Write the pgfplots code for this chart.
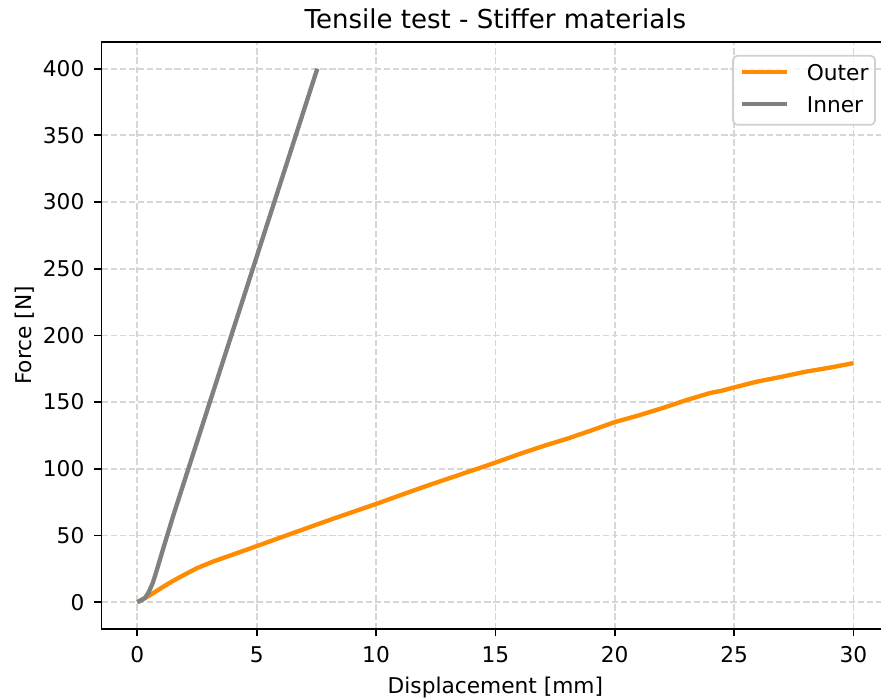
\documentclass[border=0pt]{standalone}
\usepackage{fontspec}
\setmainfont{DejaVu Sans}
\usepackage{pgfplots}
\pgfplotsset{compat=1.18}

\definecolor{outerc}{HTML}{FF8C00}
\definecolor{innerc}{HTML}{808080}
\definecolor{gridc}{HTML}{D6D6D6}
\definecolor{legc}{HTML}{D0D0D0}

% Force-displacement curves of the tensile tests
\pgfplotstableread{
x      y
0.0    0.0
0.5    4.8
1.0    10.6
1.5    16.0
2.0    20.8
2.5    25.5
3.2    30.6
3.9    35.0
5.0    42.0
6.4    51.0
8.07   61.7
10.0   73.6
11.4   82.6
12.0   86.4
13.0   92.5
14.0   98.5
15.0   104.6
16.0   111.0
16.5   114.0
17.0   117.0
18.0   122.5
19.0   128.6
20.0   135.0
21.0   140.0
22.0   145.5
23.0   151.5
24.0   156.8
24.5   158.6
25.0   161.0
26.0   165.5
27.0   169.0
28.0   172.8
29.0   175.8
30.0   179.2
}\outerdata

\pgfplotstableread{
x      y
0.0    0.0
0.15   1.2
0.32   3.2
0.45   6.5
0.53   9.5
0.64   14.0
0.74   19.5
0.90   29.0
1.10   41.0
1.50   64.5
7.54   400.0
}\innerdata

\begin{document}
\begin{tikzpicture}
\useasboundingbox (-46.77pt,-32.39pt) rectangle (359.2pt,289.75pt);
\begin{axis}[
  at={(0pt,0pt)}, anchor=south west,
  scale only axis,
  width=363pt, height=270.4pt,
  xmin=-1.5, xmax=31.5,
  ymin=-20, ymax=420,
  xtick={0,5,...,30},
  ytick={0,50,...,400},
  xtick pos=bottom, ytick pos=left,
  tick align=outside,
  major tick length=3.5pt,
  tick style={line width=0.8pt, black},
  axis line style={line width=0.8pt},
  grid=major,
  grid style={line width=0.8pt, gridc, dash pattern=on 2.9pt off 1.3pt},
  /pgf/number format/assume math mode=true,
  tick label style={font=\fontsize{10}{12}\selectfont},
  xticklabel style={inner sep=0pt, anchor=base, yshift=-12pt},
  yticklabel style={inner sep=0pt, anchor=east, xshift=-4.2pt},
  label style={font=\fontsize{10}{12}\selectfont},
  xlabel={Displacement [mm]},
  ylabel={Force [N]},
  xlabel style={at={(axis description cs:0.5,-0.1102)}, anchor=base},
  ylabel style={at={(axis description cs:-0.0887,0.5)}, anchor=base},
  title={Tensile test - Stiffer materials},
  title style={font=\fontsize{12}{14}\selectfont, at={(axis description cs:0.5,1)}, anchor=base, yshift=0pt},
  legend style={
    at={(rel axis cs:0.983,0.978)}, anchor=north east,
    draw=legc, line width=0.8pt, rounded corners=2pt,
    fill=white, fill opacity=0.8, text opacity=1,
    inner xsep=3pt, inner ysep=3.8pt,
    row sep=5.2pt,
    font=\fontsize{10}{12}\selectfont,
    nodes={inner sep=0pt, text height=7.5pt, text depth=2pt},
    /tikz/every odd column/.append style={column sep=8pt},
  },
  legend cell align=left,
  legend image code/.code={
    \draw[#1] (0pt,1pt) -- (21pt,1pt);
  },
]
\addplot[outerc, line width=2pt] table[x=x, y=y] {\outerdata};
\addlegendentry{Outer}
\addplot[innerc, line width=2pt] table[x=x, y=y] {\innerdata};
\addlegendentry{Inner}
\end{axis}
\end{tikzpicture}
\end{document}
